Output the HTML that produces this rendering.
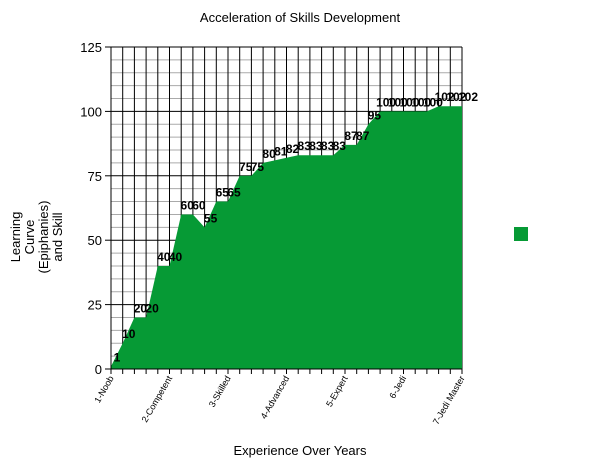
<!DOCTYPE html>
<html><head><meta charset="utf-8"><style>
body{margin:0;background:#fff;}
svg{display:block;font-family:"Liberation Sans",sans-serif;}
</style></head><body>
<svg id="chart" width="600" height="463">
<text x="300" y="22" text-anchor="middle" font-size="13">Acceleration of Skills Development</text>
<text x="300" y="455" text-anchor="middle" font-size="13">Experience Over Years</text>
<g transform="translate(30,237) rotate(-90)">
<text x="0" y="-10" text-anchor="middle" font-size="13">Learning</text>
<text x="0" y="4" text-anchor="middle" font-size="13">Curve</text>
<text x="0" y="18" text-anchor="middle" font-size="13">(Epiphanies)</text>
<text x="0" y="32" text-anchor="middle" font-size="13">and Skill</text>
</g>
<rect x="514" y="227" width="14" height="14" fill="#069a35"/>
</svg>
<script>
const values=[1,10,20,20,40,40,60,60,55,65,65,75,75,80,81,82,83,83,83,83,87,87,95,100,100,100,100,100,102,102,102];
const categoryLabels=["1-Noob","2-Competent","3-Skilled","4-Advanced","5-Expert","6-Jedi","7-Jedi Master"];
const yTicks=[0,25,50,75,100,125];
const X0=111,X1=462,Y0=369,Y1=47,YMAX=125;
const n=values.length;
const xs=i=>X0+(X1-X0)*i/(n-1);
const ys=v=>Y0-(Y0-Y1)*v/YMAX;
const svg=document.getElementById('chart');
const NS='http://www.w3.org/2000/svg';
function mk(t,a){const e=document.createElementNS(NS,t);for(const k in a)e.setAttribute(k,a[k]);svg.appendChild(e);return e;}
// grid
for(let v=5;v<=YMAX;v+=5){
 const major=v%25===0;
 const l=mk('line',{x1:X0,x2:X1,y1:ys(v),y2:ys(v),stroke:major?'#000':'#aaa','stroke-width':1});
 
 
}
for(let i=1;i<n;i++){
 const l=mk('line',{x1:xs(i),x2:xs(i),y1:Y1,y2:Y0,stroke:'#000','stroke-width':1});
 
 
}
// area
let d='M'+xs(0)+','+ys(0);
values.forEach((v,i)=>{d+=' L'+xs(i)+','+ys(v);});
d+=' L'+xs(n-1)+','+ys(0)+' Z';
const area=mk('path',{d:d,fill:'#069a35'});


// axes
const ya=mk('line',{x1:X0,x2:X0,y1:Y1,y2:Y0,stroke:'#000'});


const xa=mk('line',{x1:X0,x2:X1,y1:Y0,y2:Y0,stroke:'#000'});


yTicks.forEach(v=>{
 mk('line',{x1:X0-6,x2:X0,y1:ys(v),y2:ys(v),stroke:'#000'});
 const t=mk('text',{x:X0-9,y:ys(v)+5,'text-anchor':'end','font-size':13});
 t.textContent=v;
 
 
});
for(let i=0;i<n;i++){mk('line',{x1:xs(i),x2:xs(i),y1:Y0,y2:Y0+5,stroke:'#000'});}
categoryLabels.forEach((c,k)=>{
 const x=xs(k*5)+3,y=Y0+9;
 const t=mk('text',{x:x,y:y,'text-anchor':'end','font-size':9,transform:'rotate(-60 '+x+' '+y+')'});
 t.textContent=c;
 
 
});
// value labels
values.forEach((v,i)=>{
 const t=mk('text',{x:xs(i)+6,y:ys(v)-5,'text-anchor':'middle','font-size':12,'font-weight':'bold',fill:'#000'});
 t.textContent=v;
 
 
});
</script>
</body></html>
